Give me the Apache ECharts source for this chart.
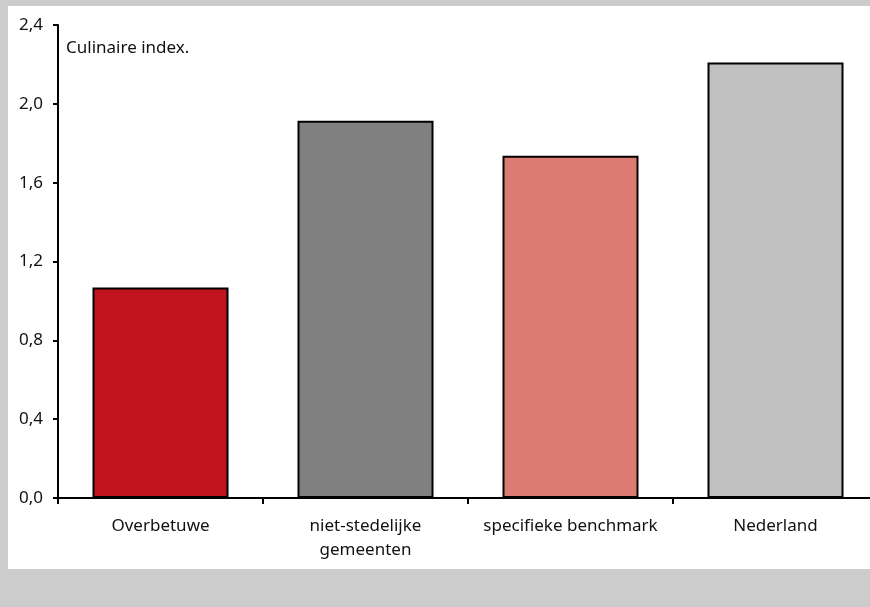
<!DOCTYPE html>
<html>
<head>
<meta charset="utf-8">
<script src="https://cdn.jsdelivr.net/npm/echarts@6/dist/echarts.min.js"></script>
<style>
  html, body { margin: 0; padding: 0; background: #cccccc; }
  #chart { width: 870px; height: 607px; }
</style>
</head>
<body>
<div id="chart"></div>
<script>
// categorieen en waarden
const categories = ['Overbetuwe', 'niet-stedelijke\ngemeenten', 'specifieke benchmark', 'Nederland']
const values = [1.068, 1.914, 1.736, 2.21]
const barColors = ['#c1141f', '#808080', '#dc7b71', '#c0c0c0']
const yTicks = [0, 0.4, 0.8, 1.2, 1.6, 2.0, 2.4]

const chart = echarts.init(document.getElementById('chart'))
const font = 'Noto Sans'

const option = {
  backgroundColor: '#cccccc',
  animation: false,
  // witte achtergrond van het grafiekvlak
  graphic: [
    {
      type: 'rect',
      z: -10,
      shape: { x: 8, y: 6, width: 862, height: 563 },
      style: { fill: '#ffffff' }
    },
    {
      type: 'text',
      left: 66,
      top: 40,
      style: {
        text: 'Culinaire index.',
        font: '17px "' + font + '"',
        fill: '#111111'
      }
    }
  ],
  // het plotvlak loopt iets voorbij de rechterrand door
  grid: {
    left: 58,
    top: 25,
    width: 820,
    bottom: 109,
    containLabel: false,
    outerBoundsMode: 'none'
  },
  xAxis: {
    type: 'category',
    data: categories,
    axisLine: { lineStyle: { color: '#000', width: 2 } },
    axisTick: { show: true, length: 6, lineStyle: { color: '#000', width: 2 } },
    axisLabel: {
      color: '#111',
      fontFamily: font,
      fontSize: 17,
      margin: 16,
      lineHeight: 24,
      interval: 0
    },
    splitLine: { show: false }
  },
  yAxis: {
    type: 'value',
    min: yTicks[0],
    max: yTicks[yTicks.length - 1],
    interval: 0.4,
    axisLine: { show: true, lineStyle: { color: '#000', width: 2 } },
    axisTick: { show: true, length: 5, lineStyle: { color: '#000', width: 2 } },
    axisLabel: {
      color: '#111',
      fontFamily: font,
      fontSize: 17,
      margin: 15,
      formatter: (v) => v.toFixed(1).replace('.', ',')
    },
    splitLine: { show: false }
  },
  series: [
    {
      type: 'bar',
      barWidth: 136,
      data: values.map((v, i) => ({
        value: v,
        itemStyle: { color: barColors[i] }
      })),
      itemStyle: {
        borderColor: '#000',
        borderWidth: 2
      }
    }
  ]
}

chart.setOption(option)
</script>
</body>
</html>
